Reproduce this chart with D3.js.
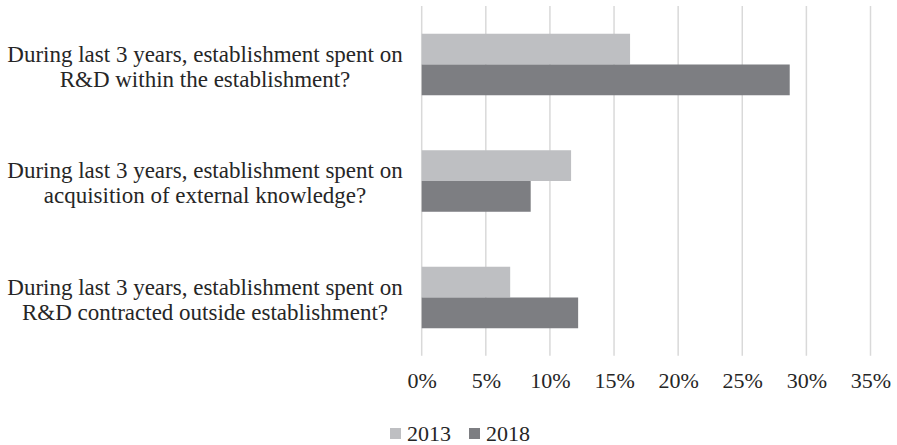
<!DOCTYPE html>
<html><head><meta charset="utf-8">
<script src="https://cdn.jsdelivr.net/npm/d3@7"></script>
<style>body{margin:0;background:#fff}svg{display:block}text{font-family:"Liberation Serif","Times New Roman",serif;fill:#262626}</style>
</head><body><svg id="c" width="897" height="445"></svg>
<script>
const categories = [
  ["During last 3 years, establishment spent on","R&D within the establishment?"],
  ["During last 3 years, establishment spent on","acquisition of external knowledge?"],
  ["During last 3 years, establishment spent on","R&D contracted outside establishment?"]
];
const seriesNames = ["2013","2018"];
const values2013 = [16.25, 11.65, 6.9];
const values2018 = [28.7, 8.5, 12.2];
const tickValues = [0,5,10,15,20,25,30,35];
const colors = ["#bebfc2","#7d7e82"];

const svg = d3.select("#c");
const x = d3.scaleLinear().domain([0,35]).range([421.7, 870.5]);
const y = d3.scaleBand().domain(d3.range(categories.length)).range([6.25, 355.75]).paddingInner(0.472).paddingOuter(0.236);
const ySub = d3.scaleBand().domain(seriesNames).range([0, y.bandwidth()]);

// gridlines
svg.append("g").selectAll("line").data(tickValues).join("line")
  .attr("x1", d=>x(d)).attr("x2", d=>x(d)).attr("y1", 6).attr("y2", 355.75)
  .attr("stroke", "#d9d9d9").attr("stroke-width", 1.5);

// bars
const data = categories.map((c,i)=>({i, vals:[values2013[i], values2018[i]]}));
const g = svg.append("g");
data.forEach(d=>{
  d.vals.forEach((v,s)=>{
    g.append("rect").attr("x", x(0)).attr("y", y(d.i)+ySub(seriesNames[s]))
      .attr("width", x(v)-x(0)).attr("height", ySub.bandwidth()).attr("fill", colors[s]);
  });
});

// x axis labels
const xa = svg.append("g").attr("transform","translate(0,380)")
  .call(d3.axisBottom(x).tickValues(tickValues).tickSize(0).tickPadding(0).tickFormat(d=>d+"%"));
xa.select(".domain").remove();
xa.selectAll("text").attr("font-size","22px").attr("dy","0.35em").attr("y",0)
  .style("font-family",'"Liberation Serif",serif').attr("fill","#262626");

// category labels
const lab = svg.append("g");
categories.forEach((lines,i)=>{
  const cy = y(i)+y.bandwidth()/2 + 1.5;
  const t = lab.append("text").attr("x",205).attr("text-anchor","middle").attr("font-size","23px");
  lines.forEach((ln,k)=>{
    t.append("tspan").attr("x",205).attr("y", cy + (k-0.5)*25).attr("dy","0.35em").text(ln);
  });
});

// legend
const leg = svg.append("g");
const legX = [390, 469];
seriesNames.forEach((s,k)=>{
  leg.append("rect").attr("x",legX[k]).attr("y",428).attr("width",11).attr("height",11).attr("fill",colors[k]);
  leg.append("text").attr("x",legX[k]+17).attr("y",433.5).attr("dy","0.35em").attr("font-size","22px").text(s);
});
</script></body></html>
